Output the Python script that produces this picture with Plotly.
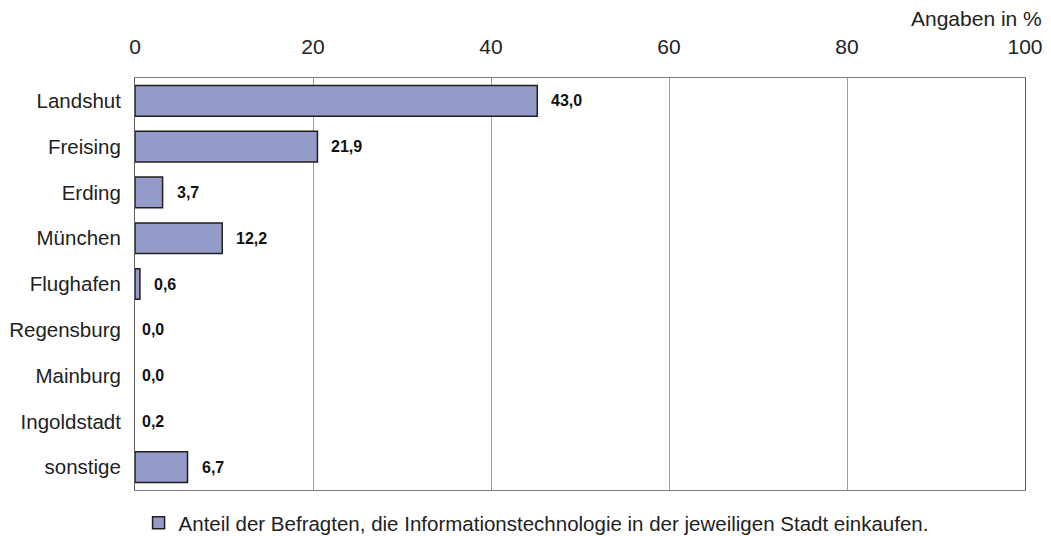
import plotly.graph_objects as go

categories = ["Landshut", "Freising", "Erding", "München", "Flughafen",
              "Regensburg", "Mainburg", "Ingoldstadt", "sonstige"]
# bar lengths as drawn in the picture
bar_values = [45.2, 20.5, 3.1, 9.8, 0.55, 0.0, 0.0, 0.0, 5.9]
# printed value labels
value_labels = ["43,0", "21,9", "3,7", "12,2", "0,6", "0,0", "0,0", "0,2", "6,7"]
x_ticks = [0, 20, 40, 60, 80, 100]
legend_name = "Anteil der Befragten, die Informationstechnologie in der jeweiligen Stadt einkaufen."

FONT = "Liberation Sans, Arial, sans-serif"

line_widths = [1.5 if v > 0 else 0 for v in bar_values]

fig = go.Figure()
fig.add_trace(go.Bar(
    y=categories, x=bar_values, orientation="h",
    name=legend_name,
    marker=dict(color="#959BC9", line=dict(color="#1e1e1e", width=line_widths)),
    showlegend=True,
))

for cat, v, lab in zip(categories, bar_values, value_labels):
    fig.add_annotation(x=v, y=cat, text="<b>" + lab + "</b>", showarrow=False,
                       xanchor="left", xshift=(12 if v > 0 else 5),
                       font=dict(family=FONT, size=16, color="#111"))

fig.add_annotation(xref="paper", yref="paper", x=1, y=1, xshift=19, yshift=60,
                   xanchor="right", yanchor="middle", showarrow=False,
                   text="Angaben in %", font=dict(family=FONT, size=21, color="#222"))

fig.update_layout(
    width=1051, height=580,
    margin=dict(l=127, r=34, t=70, b=98),
    paper_bgcolor="white", plot_bgcolor="white",
    bargap=0.33,
    font=dict(family=FONT, color="#222"),
    legend=dict(orientation="h", x=0.004, xanchor="left", y=-0.08, yanchor="middle",
                font=dict(family=FONT, size=20.5, color="#222"),
                bgcolor="rgba(0,0,0,0)"),
)
fig.update_xaxes(side="top", range=[0, 100], tickvals=x_ticks, automargin=False,
                 showgrid=True, gridcolor="#a0a0a0", gridwidth=1,
                 showline=True, linecolor="#808080", linewidth=1, mirror=True,
                 zeroline=False, ticks="", ticklabelstandoff=15,
                 tickfont=dict(family=FONT, size=21, color="#222"))
fig.update_yaxes(autorange="reversed", showgrid=False, automargin=False,
                 showline=True, linecolor="#606060", linewidth=1, mirror=True,
                 ticks="", ticklabelstandoff=9,
                 tickfont=dict(family=FONT, size=20.5, color="#222"))

fig.write_html("out.html")
